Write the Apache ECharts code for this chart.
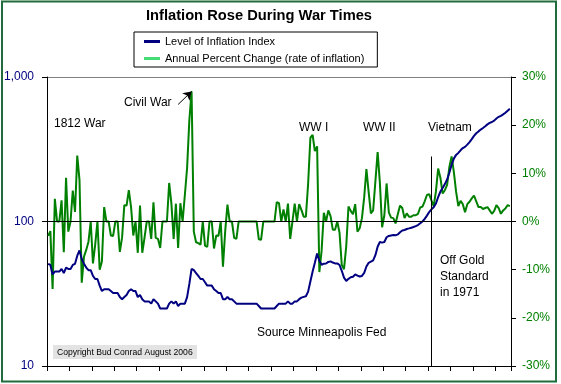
<!DOCTYPE html>
<html><head><meta charset="utf-8">
<script src="https://cdn.jsdelivr.net/npm/echarts@6/dist/echarts.min.js"></script>
<style>html,body{margin:0;padding:0;background:#fff}#c{width:561px;height:384px}</style>
</head><body><div id="c"></div>
<script>
// Categories: years 1800..2006
const firstYear = 1800, lastYear = 2006;
const years = [];
for (let y = firstYear; y <= lastYear; y++) years.push(String(y));

// Level of Inflation Index (1967 = 100)
const index1800s = [51,50,43,45,45,45,47,44,48,47,47,50,51,
  58,63,55,51,48,46,46,42,40,40,36,33,
  34,34,34,33,32,32,32,30,29,30,31,33,34,33,33,
  30,31,29,28,28,28,27,29,28,27,25,25,25,25,27,28,27,28,26,27,
  27,27,30,37,47,46,44,42,40,40,38,36,36,36,34,33,32,32,29,29,
  30,29,29,28,27,27,27,27,27,27,27,27,27,27,26,25,25,25,25,25,
  25,25,26,27,27,27,27,28,27,27,28,28,29];
const index1900s = [29.7,30.1,30.4,32.7,38.4,45.1,51.8,60.0,53.6,50.2,51.1,51.2,52.5,53.0,52.0,51.3,51.3,
  50.0,45.6,40.9,38.8,40.1,41.1,41.5,43.0,42.2,41.6,42.0,44.1,48.8,51.8,52.7,53.9,58.5,66.9,72.1,71.4,
  72.1,77.8,79.5,80.1,80.5,80.2,81.4,84.3,86.6,87.3,88.7,89.6,90.6,91.7,92.9,94.5,97.2,100,104.2,109.8,
  116.3,121.3,125.3,133.1,147.7,161.2,170.5,181.5,195.4,217.4,246.8,272.4,289.1,298.4,311.1,322.2,328.4,
  340.4,354.3,371.3,391.4,408.0,420.3,432.7,444.0,456.5,469.9,480.8,488.3,499.0,515.8,530.4,538.8,551.1,
  565.8,585.0,603.9];

// Annual Percent Change (rate of inflation), %
const change1800s = [-3.0,-2.0,-14.0,4.7,0.0,0.0,4.4,-6.4,9.1,-2.1,0.0,6.4,2.0,
  13.7,8.6,-12.7,-7.3,-5.9,-4.2,0.0,-8.7,-4.8,0.0,-10.0,-8.3,
  3.0,0.0,0.0,-2.9,-3.0,0.0,0.0,-6.3,-3.3,3.4,3.3,6.5,3.0,-2.9,0.0,
  -6.5,3.3,-6.5,-3.4,0.0,0.0,-3.6,4.0,-3.4,-3.6,-5.5,0.0,0.0,0.0,8.0,3.7,-3.6,3.7,-5.5,3.8,
  0.0,5.5,11.1,21.0,27.0,-2.1,-4.3,-4.5,-4.8,0.0,-5.0,-5.3,0.0,0.0,-5.6,-2.9,-3.0,0.0,-9.4,-2.0,
  3.5,0.0,0.0,-3.4,-3.6,0.0,0.0,0.0,0.0,0.0,0.0,0.0,0.0,0.0,-3.7,-3.8,0.0,0.0,0.0,0.0,
  0.0,0.0,4.0,3.8,0.0,2.5,0.0,3.7,-3.6,0.0,3.7,0.0,3.6];
const change1900s = [2.4,1.0,1.0,7.9,17.4,18.0,14.6,15.6,-10.5,-6.1,1.8,0.0,2.3,1.1,-1.7,-1.7,0.0,
  -2.3,-9.0,-9.9,-5.1,3.1,2.2,1.5,3.6,-2.1,-1.4,0.7,5.0,10.9,6.1,1.7,2.3,8.3,14.4,8.1,-1.2,
  1.3,7.9,1.9,0.8,0.7,-0.4,1.5,3.3,2.8,0.7,1.7,1.0,1.0,1.3,1.3,1.6,2.9,3.1,4.2,5.5,
  5.7,4.4,3.2,6.2,11.0,9.1,5.8,6.5,7.6,11.3,13.5,10.3,6.2,3.2,4.3,3.6,1.9,
  3.6,4.1,4.8,5.4,4.2,3.0,3.0,2.6,2.8,3.0,2.3,1.6,2.2,3.4,2.8,1.6,2.3,
  2.7,3.4,3.2];

const levelIndex = index1800s.concat(index1900s);
const annualChange = change1800s.concat(change1900s);

const leftTicks = [10, 100, 1000];
const rightTicks = [-30, -20, -10, 0, 10, 20, 30];

const FONT = 'Arial, "Liberation Sans", sans-serif';
const chart = echarts.init(document.getElementById('c'), null, {renderer: 'canvas'});

const txt = (text, x, y, extra) => Object.assign({
  type: 'text', silent: true, z: 100,
  style: Object.assign({text: text, x: x, y: y, fill: '#000', font: '12px ' + FONT,
    textVerticalAlign: 'middle', verticalAlign: 'middle'}, extra || {})
});

chart.setOption({
  animation: false,
  backgroundColor: '#ffffff',
  grid: {left: 47, right: 50, top: 77, bottom: 18, containLabel: false},
  legend: {
    orient: 'vertical', left: 134, top: 32,
    padding: [3, 13, 2, 10], itemGap: 4, itemWidth: 16, itemHeight: 3, icon: 'rect',
    backgroundColor: '#fff', borderColor: '#000', borderWidth: 1, borderRadius: 0,
    textStyle: {fontSize: 11, fontFamily: FONT, color: '#000', lineHeight: 13},
    selectedMode: false,
    data: [
      {name: 'Level of Inflation Index', itemStyle: {color: '#000080'}},
      {name: 'Annual Percent Change (rate of inflation)', itemStyle: {color: '#44dd77'}}
    ]
  },
  xAxis: {
    type: 'category', data: years, boundaryGap: true,
    axisLine: {onZero: false, lineStyle: {color: '#000', width: 1}},
    axisTick: {show: true, interval: 9, length: 5, lineStyle: {color: '#000'}},
    axisLabel: {show: false}, splitLine: {show: false}
  },
  yAxis: [
    {
      type: 'log', logBase: 10, min: leftTicks[0], max: leftTicks[leftTicks.length - 1],
      position: 'left',
      axisLine: {show: true, lineStyle: {color: '#000'}},
      axisTick: {show: true, length: 5, lineStyle: {color: '#000'}},
      minorTick: {show: false},
      axisLabel: {color: '#000080', fontSize: 12, fontFamily: FONT, margin: 13,
        formatter: v => v >= 1000 ? v.toLocaleString('en-US') : String(v)},
      splitLine: {show: true, lineStyle: {color: '#808080', width: 1}}
    },
    {
      type: 'value', min: rightTicks[0], max: rightTicks[rightTicks.length - 1], interval: 10,
      position: 'right',
      axisLine: {show: true, lineStyle: {color: '#000'}},
      axisTick: {show: true, length: 5, lineStyle: {color: '#000'}},
      axisLabel: {color: '#008000', fontSize: 12, fontFamily: FONT, margin: 11, formatter: '{value}%'},
      splitLine: {show: false}
    }
  ],
  series: [
    {
      name: 'Level of Inflation Index', type: 'line', yAxisIndex: 0,
      data: levelIndex, showSymbol: false, symbol: 'none', z: 3,
      lineStyle: {color: '#000080', width: 2}, itemStyle: {color: '#000080'}
    },
    {
      name: 'Annual Percent Change (rate of inflation)', type: 'line', yAxisIndex: 1,
      data: annualChange, showSymbol: false, symbol: 'none', z: 2,
      lineStyle: {color: '#008000', width: 2}, itemStyle: {color: '#008000'},
      markLine: {
        silent: true, animation: false, label: {show: false}, symbol: ['none', 'none'],
        lineStyle: {color: '#000', width: 1, type: 'solid'},
        data: [
          {yAxis: 0},
          [{coord: ['1971', 13.5]}, {coord: ['1971', -30]}],
          [{coord: ['1858', 24.3], symbol: 'none'}, {coord: ['1864', 27.0], symbol: 'arrow', symbolSize: 8}]
        ]
      }
    }
  ],
  graphic: [
    {type: 'rect', silent: true, z: 0, shape: {x: 2, y: 1.5, width: 554, height: 380},
      style: {fill: 'none', stroke: '#206c3c', lineWidth: 2}},
    txt('Inflation Rose During War Times', 259, 16, {font: 'bold 14.7px ' + FONT, textAlign: 'center', align: 'center'}),
    txt('1812 War', 54, 124),
    txt('Civil War', 124, 103),
    txt('WW I', 299, 128),
    txt('WW II', 363, 128),
    txt('Vietnam', 428, 128),
    txt('Off Gold', 440, 261),
    txt('Standard', 440, 277),
    txt('in 1971', 440, 293),
    txt('Source Minneapolis Fed', 257, 333),
    {type: 'rect', silent: true, z: 99, shape: {x: 53, y: 345, width: 144, height: 14},
      style: {fill: '#e3e3e3'}},
    txt('Copyright Bud Conrad August 2006', 57, 352.5, {font: '8.6px ' + FONT})
  ]
});
</script>
</body></html>
